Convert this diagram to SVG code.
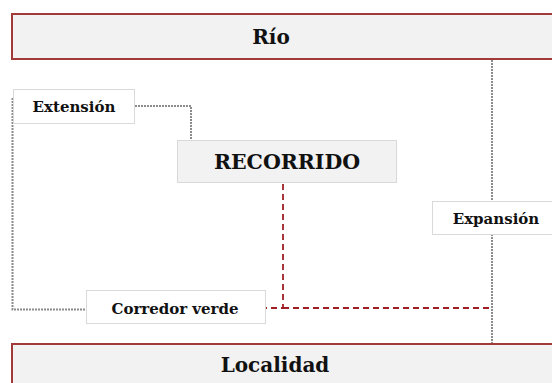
<svg xmlns="http://www.w3.org/2000/svg" width="552" height="383" viewBox="0 0 552 383">
<style>
text{font-family:"DejaVu Serif","Liberation Serif",serif;font-weight:bold;fill:#111;text-anchor:middle;dominant-baseline:central}
.band{fill:#f2f2f2;stroke:#a33a3a;stroke-width:2}
.lbl{fill:#fff;stroke:#d9d9d9;stroke-width:1}
.main{fill:#f2f2f2;stroke:#d9d9d9;stroke-width:1}
.dot{fill:none;stroke:#8c8c8c;stroke-width:2;stroke-dasharray:2 1}
.red{fill:none;stroke:#9e1f23;stroke-width:1.8;stroke-dasharray:6 4}
</style>
<rect width="552" height="383" fill="#fff"/>
<g id="connectors">
<path class="dot" d="M492 60 V344"/>
<path class="dot" d="M135 106 H191 V140"/>
<path class="dot" d="M12.5 98 V309.5 H86"/>
<path class="red" d="M283 184 V308 H266"/>
<path class="red" d="M283 308 H490"/>
</g>
<g id="rio"><rect class="band" x="12" y="14" width="550" height="45"/><text x="271" y="37" font-size="20">Río</text></g>
<g id="localidad"><rect class="band" x="12" y="344" width="550" height="50"/><text x="275" y="365" font-size="20">Localidad</text></g>
<g id="extension"><rect class="lbl" x="13.5" y="89.5" width="121" height="34"/><text x="74" y="107" font-size="15">Extensión</text></g>
<g id="recorrido"><rect class="main" x="177.5" y="140.5" width="219" height="42"/><text x="287" y="162" font-size="20.5">RECORRIDO</text></g>
<g id="corredor"><rect class="lbl" x="86.5" y="290.5" width="179" height="33"/><text x="175" y="309" font-size="15">Corredor verde</text></g>
<g id="expansion"><rect class="lbl" x="432.5" y="201.5" width="130" height="33"/><text x="496" y="219" font-size="15">Expansión</text></g>
</svg>
